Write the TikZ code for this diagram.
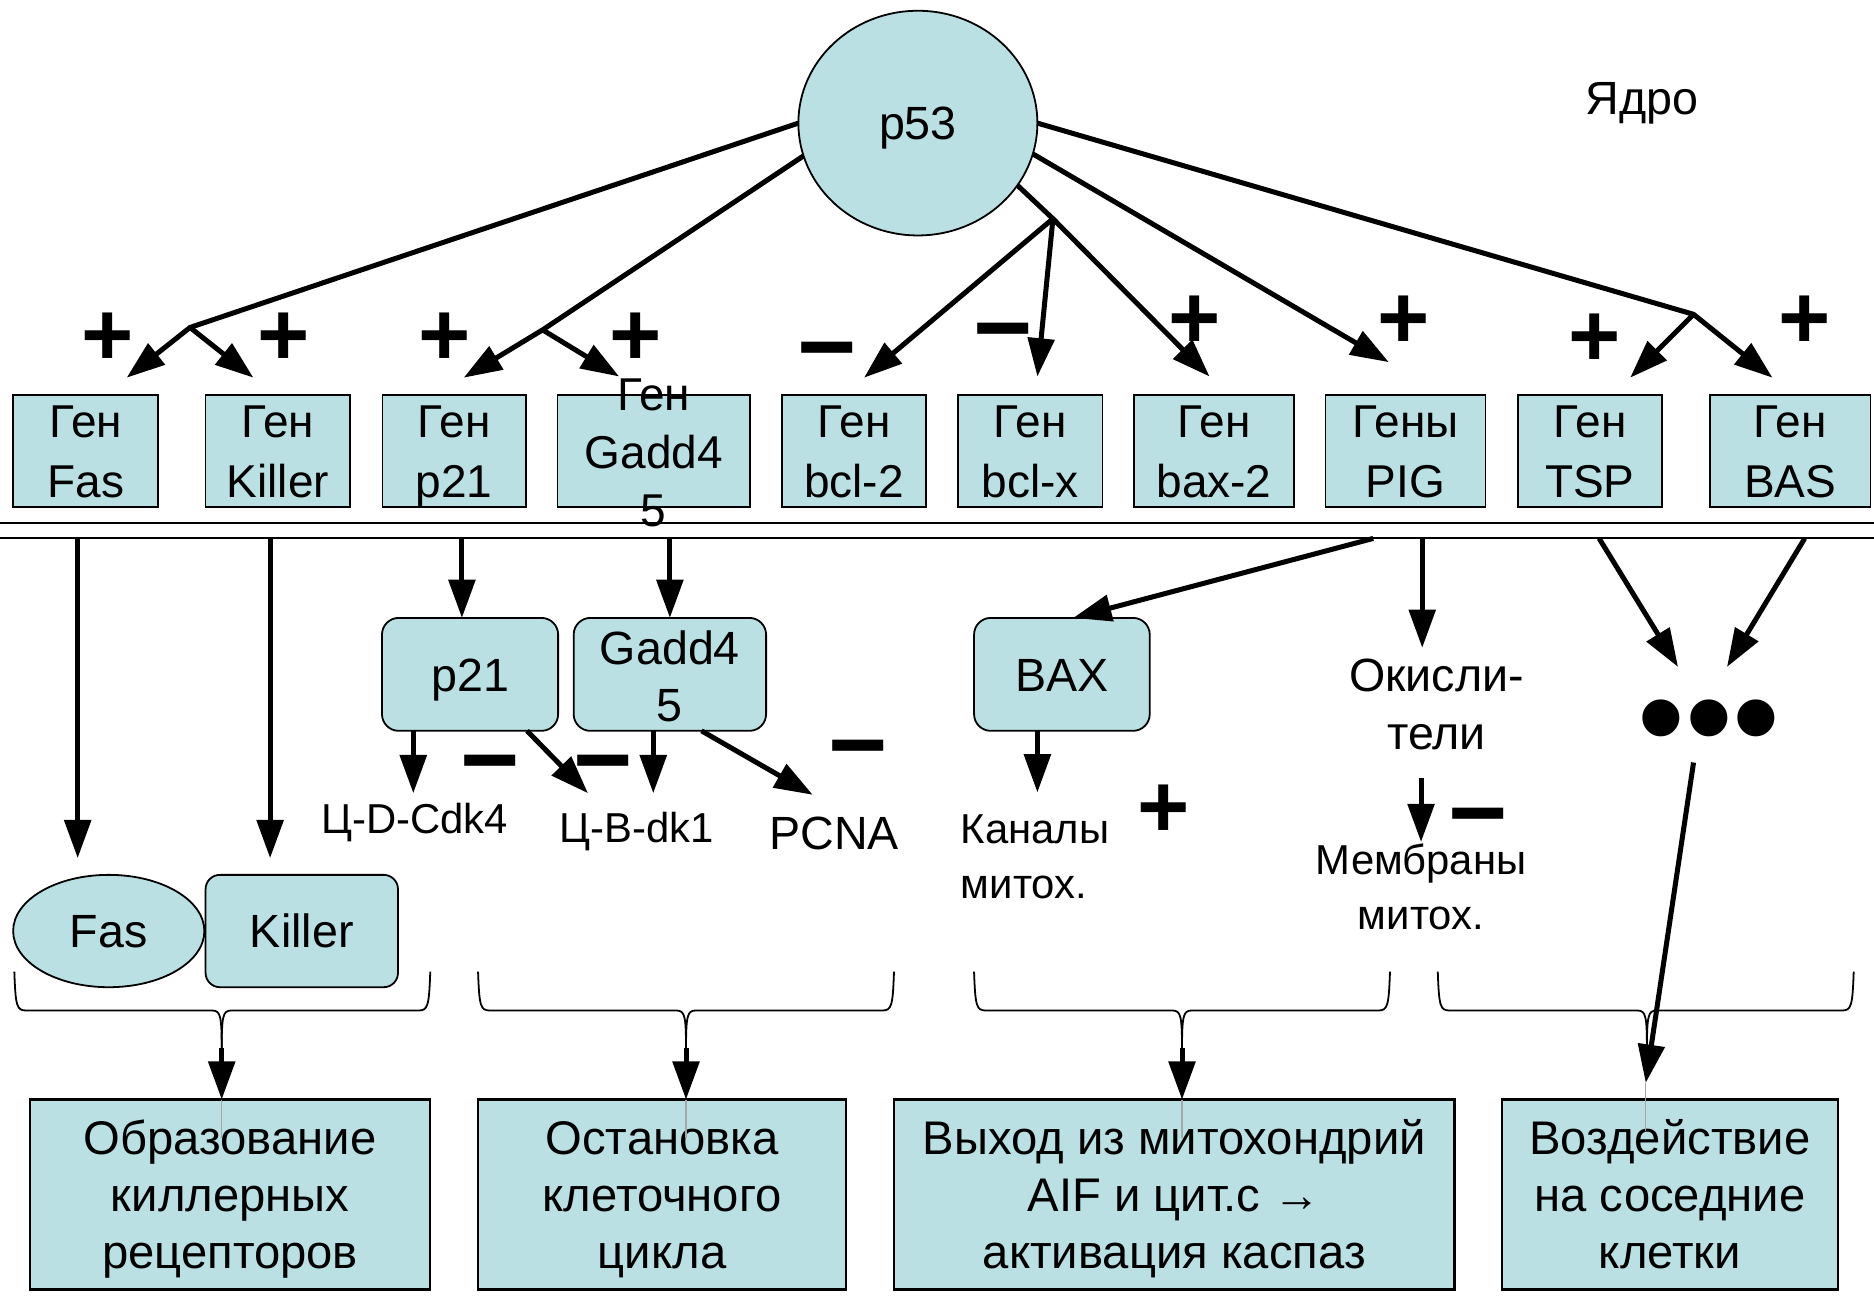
\documentclass[tikz,border=0pt]{standalone}
\usepackage{fontspec}
\setmainfont{Liberation Sans}
\usetikzlibrary{arrows.meta,shapes.geometric}
\definecolor{cellblue}{RGB}{187,224,227}
\newcommand{\capline}[1]{\smash{#1}\rule{0pt}{0.716em}}
\newcommand{\signbox}[1]{\raisebox{-0.358em}[0.05em][0.05em]{#1}}
\begin{document}
\begin{tikzpicture}[x=1pt,y=-1pt,
  every node/.style={inner sep=0pt,outer sep=0pt},
  genefont/.style={font=\fontsize{38.5}{50}\selectfont,align=center},
  bigfont/.style={font=\fontsize{39}{48}\selectfont,align=center},
  smallfont/.style={font=\fontsize{35}{46}\selectfont,align=center},
  resfont/.style={font=\fontsize{39.5}{48}\selectfont,align=center},
  genebox/.style={draw,line width=1.5pt,fill=cellblue,minimum height=94pt,genefont},
  protbox/.style={draw,line width=1.5pt,fill=cellblue,rounded corners=14pt,minimum height=94.5pt,bigfont},
  resbox/.style={draw,line width=2pt,fill=cellblue,minimum height=159pt,resfont},
  conn/.style={line width=4.2pt,line join=round},
  arr/.style={line width=4.2pt,line join=round,-{Triangle[length=32pt,width=22pt]}},
  plussign/.style={font=\fontsize{75}{75}\selectfont\bfseries},
  minussign/.style={font=\fontsize{85}{85}\selectfont\bfseries},
  bracestyle/.style={line width=1.5pt,line join=round},
  membrane/.style={line width=1.7pt},
  thinline/.style={line width=1pt,gray!70},
]
\useasboundingbox (0,0) rectangle (1568,1084);

% ---------- nucleus part ----------
\node[ellipse,draw,line width=1.5pt,fill=cellblue,minimum width=200pt,minimum height=188pt,bigfont] (p53) at (768,103) {\capline{p53}};
\node[bigfont] (nucleus) at (1374,82) {\capline{Ядро}};

\node[genebox,minimum width=121.5pt] (gFas) at (71.75,377.5) {\capline{Ген}\\\capline{Fas}};
\node[genebox,minimum width=121pt] (gKil) at (232.5,377.5) {\capline{Ген}\\\capline{Killer}};
\node[genebox,minimum width=120pt] (gP21) at (380,377.5) {\capline{Ген}\\\capline{p21}};
\node[genebox,minimum width=161pt] (gGadd) at (547,377.5) {};
\node[font=\fontsize{38.5}{48.5}\selectfont,align=center] (gGaddText) at (547,378.5) {\capline{Ген}\\\capline{Gadd4}\\\capline{5}};
\node[genebox,minimum width=121pt] (gBcl2) at (714.5,377.5) {\capline{Ген}\\\capline{bcl-2}};
\node[genebox,minimum width=121pt] (gBclx) at (862,377.5) {\capline{Ген}\\\capline{bcl-x}};
\node[genebox,minimum width=134.5pt] (gBax) at (1015.75,377.5) {\capline{Ген}\\\capline{bax-2}};
\node[genebox,minimum width=134pt] (gPIG) at (1176,377.5) {\capline{Гены}\\\capline{PIG}};
\node[genebox,minimum width=120.6pt] (gTSP) at (1330.3,377.5) {\capline{Ген}\\\capline{TSP}};
\node[genebox,minimum width=134.2pt] (gBAS) at (1497.9,377.5) {\capline{Ген}\\\capline{BAS}};

% branch points and arrow tips
\coordinate (b1) at (159,274);
\coordinate (b2) at (454,276);
\coordinate (b3) at (881,183);
\coordinate (b5) at (1417,263);
\coordinate (tFas) at (106,316);
\coordinate (tKil) at (212,316);
\coordinate (tP21) at (388,316);
\coordinate (tGadd) at (518,315);
\coordinate (tBcl2) at (723,316);
\coordinate (tBclx) at (868,315);
\coordinate (tBax) at (1012,315);
\coordinate (tPIG) at (1162,303);
\coordinate (tTSP) at (1364,316);
\coordinate (tBAS) at (1483,316);

\draw[arr] (p53.west) -- (b1) -- (tFas);
\draw[arr] (b1) -- (tKil);
\draw[arr] (p53.196) -- (b2) -- (tP21);
\draw[arr] (b2) -- (tGadd);
\draw[arr] (p53.328) -- (b3) -- (tBax);
\draw[arr] (b3) -- (tBcl2);
\draw[arr] (b3) -- (tBclx);
\draw[arr] (p53.345) -- (tPIG);
\draw[arr] (p53.east) -- (b5) -- (tTSP);
\draw[arr] (b5) -- (tBAS);

% signs
\node[plussign] (s1) at (90,279) {\signbox{+}};
\node[plussign] (s2) at (237.5,279) {\signbox{+}};
\node[plussign] (s3) at (372,279) {\signbox{+}};
\node[plussign] (s4) at (532,279) {\signbox{+}};
\node[minussign] (s5) at (692,289) {\signbox{−}};
\node[minussign] (s6) at (839.5,272.5) {\signbox{−}};
\node[plussign] (s7) at (1000,265) {\signbox{+}};
\node[plussign] (s8) at (1174.5,265) {\signbox{+}};
\node[plussign] (s9) at (1334.5,280) {\signbox{+}};
\node[plussign] (s10) at (1509.7,265) {\signbox{+}};

% membrane
\draw[membrane] (0,437.5) -- (1568,437.5);
\draw[membrane] (0,450.5) -- (1568,450.5);

% ---------- cytoplasm ----------
\node[ellipse,draw,line width=1.5pt,fill=cellblue,minimum width=160pt,minimum height=94pt,bigfont] (fasR) at (91,779) {\capline{Fas}};
\node[protbox,minimum width=161pt,minimum height=94pt,rounded corners=12pt] (kilR) at (252.5,779) {\capline{Killer}};
\node[protbox,minimum width=147.4pt] (p21b) at (393.3,564.25) {\capline{p21}};
\node[protbox,minimum width=161pt] (gaddb) at (560.5,564.25) {};
\node[font=\fontsize{39}{47.5}\selectfont,align=center] (gaddbText) at (560.5,565.75) {\capline{Gadd4}\\\capline{5}};
\node[protbox,minimum width=147pt] (baxb) at (888.5,564.25) {\capline{BAX}};

\node[smallfont] (cd4) at (347,685) {\capline{Ц-D-Cdk4}};
\node[smallfont] (cb1) at (533,692) {\capline{Ц-B-dk1}};
\node[bigfont] (pcna) at (698,697) {\capline{PCNA}};
\node[smallfont,align=left,anchor=west] (chan) at (804,716) {\capline{Каналы}\\\capline{митох.}};
\node[bigfont] (oxid) at (1202,589) {\capline{Окисли-}\\\capline{тели}};
\node[smallfont] (memb) at (1189,742) {\capline{Мембраны}\\\capline{митох.}};
\node[font=\fontsize{114}{114}\selectfont] (dots) at (1430,598) {\capline{•••}};

\coordinate (m1) at (65,450.5);
\coordinate (m2) at (226,450.5);
\coordinate (m3) at (386.5,450.5);
\coordinate (m4) at (560.5,450.5);
\coordinate (m5) at (1149,450.5);
\coordinate (m6) at (1190,450.5);
\coordinate (m7) at (1338,450.5);
\coordinate (m8) at (1510,450.5);
\coordinate (tFasR) at (65,718);
\coordinate (tKilR) at (226,718);
\coordinate (tOx) at (1190,542);
\coordinate (tDotsL) at (1404,558);
\coordinate (tDotsR) at (1445,558);

\draw[arr] (m1) -- (tFasR);
\draw[arr] (m2) -- (tKilR);
\draw[arr] (m3) -- (m3 |- p21b.north);
\draw[arr] (m4) -- (gaddb.north);
\draw[arr] (m5) -- ([xshift=9.5pt]baxb.north);
\draw[arr] (m6) -- (tOx);
\draw[arr] (m7) -- (tDotsL);
\draw[arr] (m8) -- (tDotsR);

\coordinate (tCd4) at (345.8,663.7);
\coordinate (tCb1a) at (492,663.7);
\coordinate (tCb1b) at (546.6,663.7);
\coordinate (tPcna) at (680,665);
\coordinate (tChan) at (868,663);
\coordinate (oxOut) at (1189,651);
\coordinate (tMemb) at (1189,704.5);

\draw[arr] (p21b.south -| tCd4) -- (tCd4);
\draw[arr] (p21b.south -| 441,0) -- (tCb1a);
\draw[arr] (gaddb.south -| tCb1b) -- (tCb1b);
\draw[arr] (gaddb.south -| 587,0) -- (tPcna);
\draw[arr] (baxb.south -| tChan) -- (tChan);
\draw[arr] (oxOut) -- (tMemb);

\node[minussign] (s11) at (410,634) {\signbox{−}};
\node[minussign] (s12) at (505,634) {\signbox{−}};
\node[minussign] (s13) at (718,622) {\signbox{−}};
\node[plussign] (s14) at (974,674) {\signbox{+}};
\node[minussign] (s15) at (1237,679) {\signbox{−}};

% ---------- braces ----------
\foreach \xa/\xc/\xb/\n in {12/185.5/360/1, 400/574/748/2, 815/989/1163/3, 1203/1378/1551/4} {
  \draw[bracestyle] (\xa,813) .. controls (\xa+1,842) and (\xa+2,845.5) .. (\xa+10,845.5) -- (\xc-8,845.5) .. controls (\xc-1,845.5) and (\xc,850) .. (\xc,878);
  \draw[bracestyle] (\xb,813) .. controls (\xb-1,842) and (\xb-2,845.5) .. (\xb-10,845.5) -- (\xc+8,845.5) .. controls (\xc+1,845.5) and (\xc,850) .. (\xc,878);
  \coordinate (brace\n) at (\xc,877);
}

% ---------- result boxes ----------
\node[resbox,minimum width=335pt] (res1) at (192.5,999.5) {\capline{Образование}\\\capline{киллерных}\\\capline{рецепторов}};
\node[resbox,minimum width=308pt] (res2) at (554,999.5) {\capline{Остановка}\\\capline{клеточного}\\\capline{цикла}};
\node[resbox,minimum width=469pt] (res3) at (982.5,999.5) {\capline{Выход из митохондрий}\\\capline{AIF и цит.c →}\\\capline{активация каспаз}};
\node[resbox,minimum width=281.5pt] (res4) at (1397.25,999.5) {\capline{Воздействие}\\\capline{на соседние}\\\capline{клетки}};

\draw[arr] (brace1) -- (brace1 |- res1.north);
\draw[arr] (brace2) -- (brace2 |- res2.north);
\draw[arr] (brace3) -- (brace3 |- res3.north);
\coordinate (dotsOut) at (1417,638);
\coordinate (tRes4) at (1377,906);
\draw[arr] (dotsOut) -- (tRes4);

\draw[thinline] (brace1 |- res1.north) -- ++(0,32);
\draw[thinline] (brace2 |- res2.north) -- ++(0,32);
\draw[thinline] (brace3 |- res3.north) -- ++(0,32);
\draw[thinline] (tRes4) -- ++(0,40);
\end{tikzpicture}
\end{document}
